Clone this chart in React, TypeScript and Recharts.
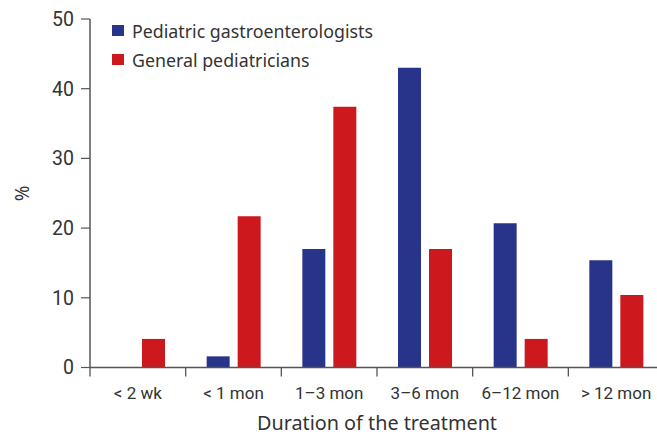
import { BarChart, Bar, XAxis, YAxis } from 'recharts';

const categories = ['< 2 wk', '< 1 mon', '1–3 mon', '3–6 mon', '6–12 mon', '> 12 mon'];
const gastroenterologists = [0, 1.6, 17.0, 43.0, 20.7, 15.4];
const pediatricians = [4.1, 21.7, 37.4, 17.0, 4.1, 10.4];
const yTicks = [0, 10, 20, 30, 40, 50];

const BLUE = '#28338a';
const RED = '#cd181e';
const AXIS = '#555555';
const TEXT = '#333333';
const TICK_FONT = "Roboto, 'Liberation Sans', Arial, sans-serif";
const LABEL_FONT = "'Noto Sans', sans-serif";

const data = categories.map((c, i) => ({
  name: c,
  gastro: gastroenterologists[i],
  general: pediatricians[i],
}));

const CHART_W = 680;
const CHART_H = 435;
const Y_AXIS_W = 90;
const MARGIN = { top: 19, right: 16, left: 0, bottom: 0 };
const X_AXIS_H = 67.5;
const bandWidth = (CHART_W - Y_AXIS_W - MARGIN.left - MARGIN.right) / categories.length;

// label in the band centre, tick mark on the band's left boundary
function CategoryTick(props: any) {
  const { x, y, payload } = props;
  return (
    <g>
      <line x1={x - bandWidth / 2} x2={x - bandWidth / 2} y1={y} y2={y + 9} stroke={AXIS} strokeWidth={1.3} />
      <text x={x} y={y + 31} textAnchor="middle" fill={TEXT} fontSize={17} fontFamily={TICK_FONT}>
        {payload.value}
      </text>
    </g>
  );
}

function ValueTick(props: any) {
  const { x, y, payload } = props;
  return (
    <text x={x} y={y} dy="0.355em" textAnchor="end" fill={TEXT} fontSize={19.5} fontFamily={TICK_FONT}>
      {payload.value}
    </text>
  );
}

const legendItems = [
  { label: 'Pediatric gastroenterologists', color: BLUE },
  { label: 'General pediatricians', color: RED },
];

function LegendBox() {
  return (
    <div style={{ position: 'absolute', left: 112, top: 16, fontFamily: LABEL_FONT, fontSize: 17.8, color: TEXT }}>
      {legendItems.map((d) => (
        <div key={d.label} style={{ display: 'flex', alignItems: 'center', height: 29, whiteSpace: 'nowrap' }}>
          <span style={{ width: 12, height: 11, background: d.color, marginRight: 8, display: 'inline-block' }} />
          {d.label}
        </div>
      ))}
    </div>
  );
}

export default function App() {
  return (
    <div style={{ position: 'fixed', left: 0, top: 0, width: 657, height: 435, overflow: 'hidden', background: '#fff' }}>
      <BarChart width={CHART_W} height={CHART_H} data={data} margin={MARGIN} barCategoryGap={21} barGap={8}>
        <XAxis
          dataKey="name"
          height={X_AXIS_H}
          tickLine={false}
          tickSize={0}
          tickMargin={0}
          axisLine={{ stroke: AXIS, strokeWidth: 1.5 }}
          tick={<CategoryTick />}
          interval={0}
          label={{
            value: 'Duration of the treatment',
            position: 'insideBottom',
            offset: 5,
            fill: TEXT,
            fontSize: 19.8,
            fontFamily: LABEL_FONT,
          }}
        />
        <YAxis
          width={Y_AXIS_W}
          domain={[0, 50]}
          ticks={yTicks}
          tickSize={9}
          tickMargin={7}
          tickLine={{ stroke: AXIS, strokeWidth: 1.2 }}
          axisLine={{ stroke: AXIS, strokeWidth: 1.5 }}
          tick={<ValueTick />}
          label={{
            value: '%',
            angle: -90,
            position: 'center',
            dx: -23,
            fill: TEXT,
            fontSize: 19,
            fontFamily: LABEL_FONT,
          }}
        />
        <Bar dataKey="gastro" fill={BLUE} isAnimationActive={false} />
        <Bar dataKey="general" fill={RED} isAnimationActive={false} />
      </BarChart>
      <LegendBox />
    </div>
  );
}
